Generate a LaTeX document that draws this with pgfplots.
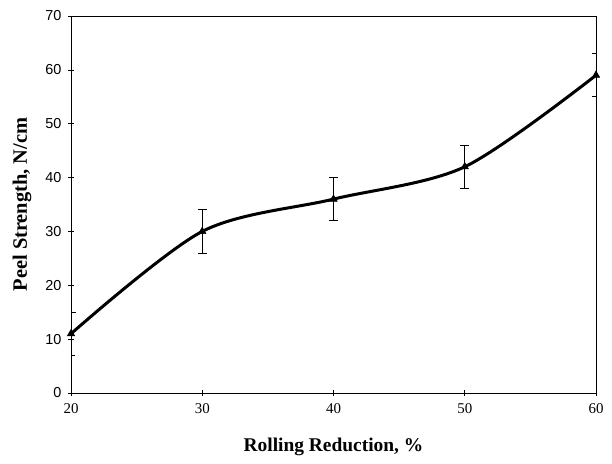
\documentclass[border=0pt]{standalone}
\usepackage{pgfplots}
\pgfplotsset{compat=1.18}
\usepackage{fontspec}
\setmainfont{Liberation Serif}
\newfontfamily\arial{Liberation Sans}

\begin{document}
\begin{tikzpicture}
% fixed canvas, 612 x 464
\useasboundingbox (-71bp,-71bp) rectangle (541bp,393bp);
\begin{axis}[
  at={(0,0)}, anchor=south west,
  scale only axis, width=525bp, height=377bp,
  xmin=20, xmax=60, ymin=0, ymax=70,
  xtick={20,30,40,50,60}, ytick={0,10,...,70},
  xtick pos=bottom, ytick pos=left,
  tick align=center, major tick length=6bp,
  tick style={black, line width=0.6bp},
  axis line style={line width=0.9bp},
  /pgf/number format/assume math mode=true,
  x tick label style={font=\fontsize{15}{15}\selectfont, yshift=-4bp},
  y tick label style={font=\arial\fontsize{14.5}{14.5}\selectfont, xshift=-3bp},
  xlabel={\textbf{Rolling Reduction, \%}},
  ylabel={\textbf{Peel Strength, N/cm}},
  xlabel style={font=\fontsize{19.5}{19.5}\selectfont, at={(axis description cs:0.5,0)}, anchor=base, yshift=-58bp},
  ylabel style={font=\fontsize{20.5}{20.5}\selectfont, at={(axis description cs:0,0.5)}, anchor=center, yshift=49bp},
]
\addplot[black, line width=3bp, smooth, mark=triangle*, mark size=4.3bp,
  mark options={solid, line width=0.5bp},
  error bars/.cd, y dir=both, y explicit,
  error bar style={line width=0.7bp},
  error mark options={rotate=90, mark size=4.5bp, line width=0.9bp}]
  coordinates {
  (20,11) +- (0,4)
  (30,30) +- (0,4)
  (40,36) +- (0,4)
  (50,42) +- (0,4)
  (60,59) +- (0,4)
  };
\end{axis}
\end{tikzpicture}
\end{document}
